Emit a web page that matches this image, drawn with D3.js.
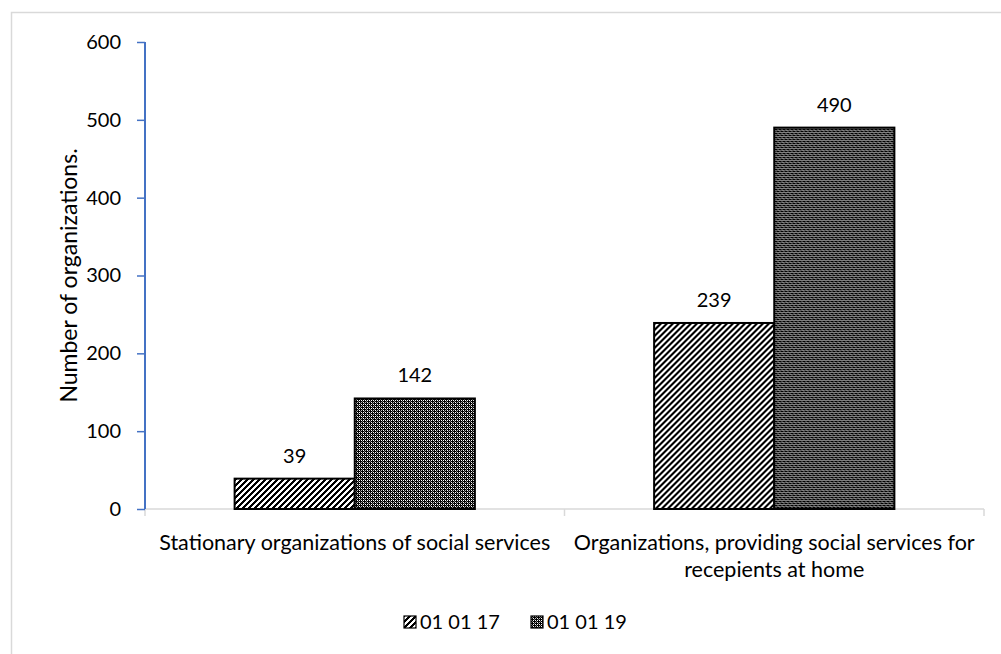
<!DOCTYPE html>
<html lang="en">
	<head>
		<meta charset="utf-8">
		<title>Organizations of social services</title>
		<script type="text/javascript" src="https://cdn.jsdelivr.net/npm/d3@7"></script>
		<style type="text/css">
			body { margin: 0; background: #fff; }
			text { font-family: Lato, "Open Sans", sans-serif; fill: #000; }
		</style>
	</head>
	<body>
		<div id="chart"></div>
		<script type="text/javascript">

			//Data
			var categories = ["stationary", "home"];
			var categoryLabels = [
				["Stationary organizations of social services"],
				["Organizations, providing social services for", "recepients at home"]
			];
			var seriesNames = ["01 01 17", "01 01 19"];
			var values2017 = [39, 239];
			var values2019 = [142, 490];
			var yTicks = [0, 100, 200, 300, 400, 500, 600];

			//Width and height
			var w = 1001;
			var h = 654;

			var svg = d3.select("#chart")
						.append("svg")
						.attr("width", w)
						.attr("height", h);

			//patterns
			var defs = svg.append("defs");

			var hatch = defs.append("pattern")
				.attr("id", "hatch")
				.attr("patternUnits", "userSpaceOnUse")
				.attr("width", 6)
				.attr("height", 6);
			hatch.append("rect").attr("width", 6).attr("height", 6).attr("fill", "#fff");
			hatch.append("path")
				.attr("d", "M-1,1 L1,-1 M0,6 L6,0 M5,7 L7,5")
				.attr("stroke", "#000")
				.attr("stroke-width", 2.4)
				.attr("shape-rendering", "crispEdges");

			//dotted grid: black ground with white dots and grey rings
			var grid = defs.append("pattern")
				.attr("id", "grid")
				.attr("patternUnits", "userSpaceOnUse")
				.attr("width", 4)
				.attr("height", 4);
			grid.append("rect").attr("width", 4).attr("height", 4).attr("fill", "#000");
			var gridCells = [[0,0,"#fff"],[2,2,"#fff"],[2,0,"#fff"],[0,2,"#bbb"],[1,1,"#777"],[3,3,"#777"]];
			gridCells.forEach(function(c){
				grid.append("rect").attr("x", c[0]).attr("y", c[1]).attr("width", 1).attr("height", 1).attr("fill", c[2]);
			});

			var fills = ["url(#hatch)", "url(#grid)"];

			//outer frame
			svg.append("rect")
				.attr("x", 11.5)
				.attr("y", 12.5)
				.attr("width", 1100)
				.attr("height", 1000)
				.attr("fill", "none")
				.attr("stroke", "#d9d9d9")
				.attr("stroke-width", 1.5);

			//scales
			var x0 = d3.scaleBand()
				.domain(categories)
				.range([145, 984]);

			var x1 = d3.scaleBand()
				.domain(seriesNames)
				.range([0, x0.bandwidth()])
				.paddingInner(0)
				.paddingOuter(0.746);

			var y = d3.scaleLinear()
				.domain([0, 600])
				.range([509, 42]);

			//x axis line and ticks (between categories)
			svg.append("line")
				.attr("x1", 145).attr("x2", 984)
				.attr("y1", y(0)).attr("y2", y(0))
				.attr("stroke", "#d9d9d9")
				.attr("stroke-width", 1.5);

			var bounds = categories.map(function(c){ return x0(c); }).concat([x0(categories[categories.length-1]) + x0.bandwidth()]);
			svg.selectAll(".xtick")
				.data(bounds)
				.enter()
				.append("line")
				.attr("class", "xtick")
				.attr("x1", function(d){ return d; })
				.attr("x2", function(d){ return d; })
				.attr("y1", y(0))
				.attr("y2", y(0) + 7)
				.attr("stroke", "#d9d9d9")
				.attr("stroke-width", 1.5);

			//bars
			var rows = categories.map(function(c, i){
				return { cat: c, vals: [values2017[i], values2019[i]] };
			});

			var groups = svg.selectAll(".group")
				.data(rows)
				.enter()
				.append("g")
				.attr("class", "group")
				.attr("transform", function(d){ return "translate(" + x0(d.cat) + ",0)"; });

			groups.selectAll("rect")
				.data(function(d){ return d.vals.map(function(v, j){ return { name: seriesNames[j], v: v, j: j }; }); })
				.enter()
				.append("rect")
				.attr("x", function(d){ return x1(d.name); })
				.attr("y", function(d){ return y(d.v); })
				.attr("width", x1.bandwidth())
				.attr("height", function(d){ return y(0) - y(d.v); })
				.attr("fill", function(d){ return fills[d.j]; })
				.attr("stroke", "#000")
				.attr("stroke-width", 2);

			//value labels
			groups.selectAll(".val")
				.data(function(d){ return d.vals.map(function(v, j){ return { name: seriesNames[j], v: v }; }); })
				.enter()
				.append("text")
				.attr("class", "val")
				.attr("x", function(d){ return x1(d.name) + x1.bandwidth() / 2; })
				.attr("y", function(d){ return y(d.v) - 16; })
				.attr("text-anchor", "middle")
				.attr("font-size", "20px")
				.text(function(d){ return d.v; });

			//y axis
			var yAxis = d3.axisLeft(y)
				.tickValues(yTicks)
				.tickSize(8)
				.tickPadding(16);

			var yg = svg.append("g")
				.attr("transform", "translate(145,0)")
				.call(yAxis);
			yg.select(".domain").attr("stroke", "#4472c4").attr("stroke-width", 2).attr("d", "M0," + y(600) + "V" + y(0));
			yg.selectAll(".tick line").attr("stroke", "#4472c4").attr("stroke-width", 1.5);
			yg.selectAll(".tick text")
				.attr("font-size", "20px")
				.attr("font-family", "Lato, sans-serif")
				.attr("fill", "#000");

			//y title
			svg.append("text")
				.attr("transform", "translate(77," + ((y(0) + y(600)) / 2) + ") rotate(-90)")
				.attr("text-anchor", "middle")
				.attr("font-size", "23px")
				.text("Number of organizations.");

			//category labels
			var catLabels = svg.selectAll(".cat")
				.data(categories)
				.enter()
				.append("text")
				.attr("class", "cat")
				.attr("text-anchor", "middle")
				.attr("font-size", "21.5px")
				.attr("x", function(d){ return x0(d) + x0.bandwidth() / 2; })
				.attr("y", 550);

			catLabels.selectAll("tspan")
				.data(function(d, i){ return categoryLabels[i]; })
				.enter()
				.append("tspan")
				.attr("x", function(){ var p = this.parentNode; return p.getAttribute("x"); })
				.attr("dy", function(d, i){ return i === 0 ? 0 : 27; })
				.text(function(d){ return d; });

			//legend
			var legendX = [404, 531];
			var legend = svg.selectAll(".legend")
				.data(seriesNames)
				.enter()
				.append("g")
				.attr("class", "legend")
				.attr("transform", function(d, i){ return "translate(" + legendX[i] + ",616)"; });

			legend.append("rect")
				.attr("width", 12)
				.attr("height", 12)
				.attr("fill", function(d, i){ return fills[i]; })
				.attr("stroke", "#000")
				.attr("stroke-width", 1.2);

			legend.append("text")
				.attr("x", 16)
				.attr("y", 13)
				.attr("font-size", "20px")
				.text(function(d){ return d; });

		</script>
	</body>
</html>
